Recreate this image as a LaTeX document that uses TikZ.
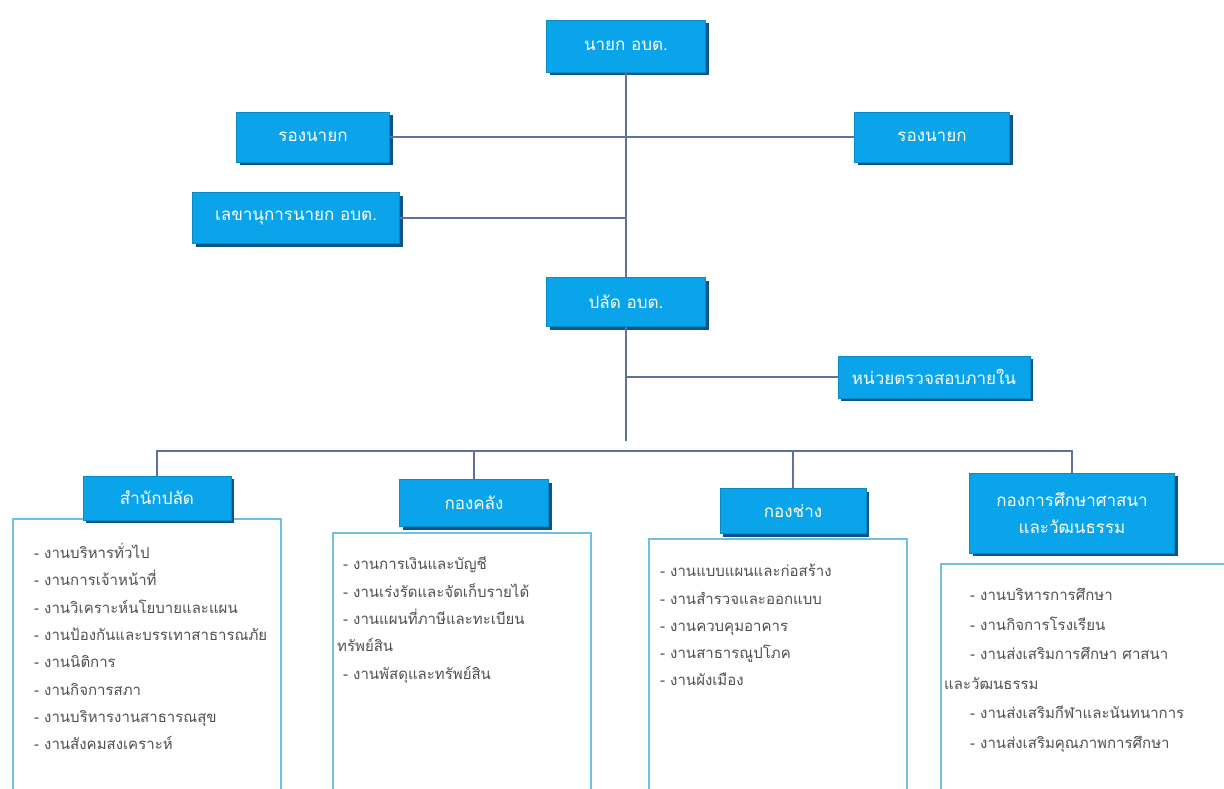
\documentclass[tikz,border=0pt]{standalone}
\usepackage{fontspec}
\newfontfamily\thai[Script=Thai]{Loma}
\usetikzlibrary{positioning,shadows}
\definecolor{boxblue}{RGB}{10,164,234}
\definecolor{boxedge}{RGB}{16,84,140}
\definecolor{linkcol}{RGB}{96,112,160}
\definecolor{panelcol}{RGB}{112,190,226}
\definecolor{listcol}{RGB}{80,80,80}
\tikzset{
  post/.style={draw=boxblue!85!black, fill=boxblue, text=white,
    font=\thai\fontsize{17}{27}\selectfont, align=center, inner sep=2pt,
    drop shadow={shadow xshift=3pt, shadow yshift=-3pt, fill=boxedge, opacity=1}},
  panel/.style={draw=panelcol, line width=1.6pt, fill=white, anchor=north west, inner sep=0pt},
  jobs/.style={anchor=north west, align=left, text=listcol, inner sep=0pt,
    font=\thai\fontsize{15}{27.3}\selectfont},
  link/.style={draw=linkcol, line width=1.8pt}
}
\begin{document}
\begin{tikzpicture}[x=1pt,y=-1pt]
    \useasboundingbox (0,0) rectangle (1224,788);

    % Top level
    \node[post, minimum width=159, minimum height=52] (mayor) at (626,46) {นายก อบต.};
    \node[post, minimum width=153, minimum height=50] (vmayorL) at (313,137) {รองนายก};
    \node[post, minimum width=155, minimum height=50] (vmayorR) at (932,137) {รองนายก};
    \node[post, minimum width=207, minimum height=51] (secr) at (296,218) {เลขานุการนายก อบต.};
    \node[post, minimum width=159, minimum height=49] (clerk) at (626,302) {ปลัด อบต.};
    \node[post, minimum width=192, minimum height=42] (audit) at (934,377) {หน่วยตรวจสอบภายใน};

    \draw[link] (mayor.south) -- (clerk.north);
    \draw[link] (vmayorL.east) -- (vmayorR.west);
    \draw[link] (secr.east) -- (secr.east -| mayor.south);
    \draw[link] (audit.west -| clerk.south) -- (audit.west);

    % Bus to divisions
    \coordinate (busEnd) at (626,441);
    \coordinate (busy) at (0,451);
    \draw[link] (clerk.south) -- (busEnd);

    % Panels
    \node[panel, minimum width=268, minimum height=290] (offjobs) at (12,518) {};
    \node[panel, minimum width=258, minimum height=270] (finjobs) at (332,532) {};
    \node[panel, minimum width=258, minimum height=270] (engjobs) at (648,538) {};
    \node[panel, minimum width=300, minimum height=250] (edujobs) at (940,563) {};

    % Divisions
    \node[post, minimum width=148, minimum height=44] (off) at (157,498) {สำนักปลัด};
    \node[post, minimum width=149, minimum height=47] (fin) at (474,503) {กองคลัง};
    \node[post, minimum width=146, minimum height=45] (eng) at (793,511) {กองช่าง};
    \node[post, minimum width=205, minimum height=80] (edu) at (1072,513) {กองการศึกษาศาสนา\\และวัฒนธรรม};

    \draw[link] (off.north) -- (off.north |- busy) -- (edu.north |- busy) -- (edu.north);
    \draw[link] (fin.north) -- (fin.north |- busy);
    \draw[link] (eng.north) -- (eng.north |- busy);

    % Duties
    \node[jobs] (offlist) at ([shift={(22,25)}]offjobs.north west) {%
      - งานบริหารทั่วไป\\
      - งานการเจ้าหน้าที่\\
      - งานวิเคราะห์นโยบายและแผน\\
      - งานป้องกันและบรรเทาสาธารณภัย\\
      - งานนิติการ\\
      - งานกิจการสภา\\
      - งานบริหารงานสาธารณสุข\\
      - งานสังคมสงเคราะห์};
    \node[jobs] (finlist) at ([shift={(5,25)}]finjobs.north west) {%
      \hspace{6pt}- งานการเงินและบัญชี\\
      \hspace{6pt}- งานเร่งรัดและจัดเก็บรายได้\\
      \hspace{6pt}- งานแผนที่ภาษีและทะเบียน\\
      ทรัพย์สิน\\
      \hspace{6pt}- งานพัสดุและทรัพย์สิน};
    \node[jobs] (englist) at ([shift={(12,26)}]engjobs.north west) {%
      - งานแบบแผนและก่อสร้าง\\
      - งานสำรวจและออกแบบ\\
      - งานควบคุมอาคาร\\
      - งานสาธารณูปโภค\\
      - งานผังเมือง};
    \node[jobs, font=\thai\fontsize{15}{29.6}\selectfont] (edulist) at ([shift={(4,25)}]edujobs.north west) {%
      \hspace{26pt}- งานบริหารการศึกษา\\
      \hspace{26pt}- งานกิจการโรงเรียน\\
      \hspace{26pt}- งานส่งเสริมการศึกษา ศาสนา\\
      และวัฒนธรรม\\
      \hspace{26pt}- งานส่งเสริมกีฬาและนันทนาการ\\
      \hspace{26pt}- งานส่งเสริมคุณภาพการศึกษา};
\end{tikzpicture}
\end{document}
